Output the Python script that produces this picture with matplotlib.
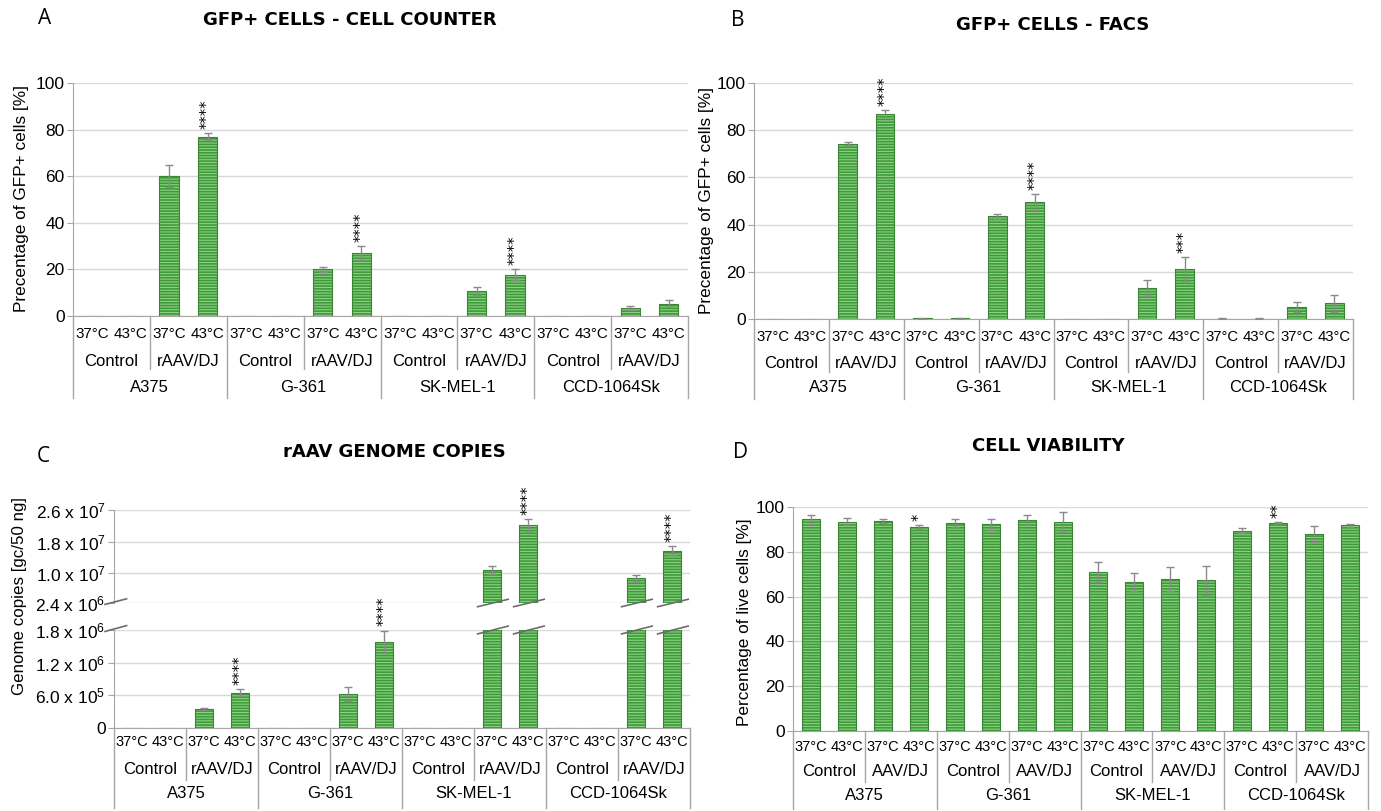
import matplotlib
matplotlib.use('Agg')
import matplotlib.pyplot as plt
import numpy as np

# ---- data ----
temps = ['37°C', '43°C'] * 8
treat_abc = ['Control', 'rAAV/DJ'] * 4
treat_d = ['Control', 'AAV/DJ'] * 4
cell_lines = ['A375', 'G-361', 'SK-MEL-1', 'CCD-1064Sk']

counter_vals = [0, 0, 60.0, 77.0, 0, 0, 20.0, 27.0, 0, 0, 10.7, 17.8, 0, 0, 3.5, 5.2]
counter_err = [0, 0, 4.8, 1.5, 0, 0, 1.2, 3.0, 0, 0, 1.8, 2.5, 0, 0, 0.8, 1.5]
counter_sig = {3: '****', 7: '****', 11: '****'}

facs_vals = [0.1, 0, 74.3, 87.0, 0.3, 0.4, 43.5, 49.5, 0, 0, 13.2, 21.2, 0.2, 0.2, 5.0, 6.6]
facs_err = [0, 0, 0.5, 1.5, 0.2, 0.2, 1.2, 3.3, 0, 0, 3.3, 5.0, 0.1, 0.1, 2.2, 3.6]
facs_sig = {3: '****', 7: '****', 11: '***'}

gc_vals = [0, 0, 3.5e5, 6.5e5, 0, 0, 6.2e5, 1.58e6, 0, 0, 1.08e7, 2.21e7, 0, 0, 8.7e6, 1.57e7]
gc_err = [0, 0, 0.15e5, 0.6e5, 0, 0, 1.3e5, 2.1e5, 0, 0, 1.0e6, 1.5e6, 0, 0, 0.9e6, 1.2e6]
gc_sig = {3: '****', 7: '****', 11: '****', 15: '****'}

viab_vals = [94.5, 93.5, 93.7, 91.0, 92.8, 92.3, 94.2, 93.2,
             71.0, 66.5, 67.8, 67.3, 89.5, 93.0, 87.8, 91.8]
viab_err = [2.0, 1.5, 1.0, 0.8, 1.8, 2.5, 2.3, 4.5,
            4.3, 4.2, 5.5, 6.5, 1.0, 0.3, 3.5, 0.7]
viab_sig = {3: '*', 13: '**'}

# ---- style ----
GREEN = '#3c9c37'
STRIPE = '#8fcf86'
EDGE = '#3a8535'
ERRC = '#8a8a8a'
GRID = '#d9d9d9'
AXC = '#a6a6a6'
plt.rcParams['font.family'] = ['Liberation Sans', 'DejaVu Sans']
plt.rcParams['mathtext.default'] = 'regular'
plt.rcParams['hatch.linewidth'] = 0.8

W, H = 1381, 811
fig = plt.figure(figsize=(W / 100, H / 100), dpi=100)


def rect(l, r, t, b):
    return [l / W, 1 - b / H, (r - l) / W, (b - t) / H]


def style_ax(ax):
    for s in ['top', 'right']:
        ax.spines[s].set_visible(False)
    ax.spines['left'].set_color(AXC)
    ax.spines['bottom'].set_color(AXC)
    ax.yaxis.grid(True, color=GRID, lw=1)
    ax.set_axisbelow(True)
    ax.tick_params(axis='y', length=4, color=AXC, labelsize=12.5, pad=2)
    ax.tick_params(axis='x', length=0, labelbottom=False)
    ax.set_xlim(-0.5, 15.5)


def draw_bars(ax, vals, errs, sig):
    vals = np.array(vals, float)
    errs = np.array(errs, float)
    x = np.arange(len(vals))
    ax.bar(x, vals, 0.5, color=GREEN, edgecolor=STRIPE, hatch='------', linewidth=0, zorder=2)
    ax.bar(x, vals, 0.5, fill=False, edgecolor=EDGE, linewidth=0.8, zorder=3)
    m = errs > 0
    ax.errorbar(x[m], vals[m], yerr=errs[m], fmt='none', ecolor=ERRC,
                elinewidth=1, capsize=3, capthick=1, zorder=4)
    for i, s in sig.items():
        ax.annotate(s, (x[i], vals[i] + errs[i]), xytext=(0, 3), textcoords='offset points',
                    rotation=90, ha='center', va='bottom', fontsize=10.5,
                    family='DejaVu Sans', annotation_clip=False)


def cat_table(ax, h_px, rows, ends, treat, tfs, fs=12):
    tr = ax.get_xaxis_transform()
    n = len(temps)
    for i in range(n):
        ax.text(i, -rows[0] / h_px, temps[i], transform=tr, ha='center', va='center',
                fontsize=tfs, clip_on=False)
    for j in range(n // 2):
        ax.text(2 * j + 0.5, -rows[1] / h_px, treat[j], transform=tr, ha='center',
                va='center', fontsize=fs, clip_on=False)
    for k in range(n // 4):
        ax.text(4 * k + 1.5, -rows[2] / h_px, cell_lines[k], transform=tr, ha='center',
                va='center', fontsize=fs, clip_on=False)
    for j in range(n // 2 + 1):
        xe = 2 * j - 0.5
        ye = ends[1] if j % 2 == 0 else ends[0]
        ax.plot([xe, xe], [0, -ye / h_px], transform=tr, color=AXC, lw=1, clip_on=False)


# ---- A ----
axA = fig.add_axes(rect(73, 688, 83, 316))
style_ax(axA)
axA.set_ylim(0, 100)
axA.set_yticks(range(0, 101, 20))
draw_bars(axA, counter_vals, counter_err, counter_sig)
cat_table(axA, 233, (18, 46, 71), (53, 82), treat_abc, 10.9)

# ---- B ----
axB = fig.add_axes(rect(754, 1353, 83, 319))
style_ax(axB)
axB.set_ylim(0, 100)
axB.set_yticks(range(0, 101, 20))
draw_bars(axB, facs_vals, facs_err, facs_sig)
cat_table(axB, 236, (18, 45, 68), (53, 80), treat_abc, 10.7)

# ---- C (broken axis) ----
axCu = fig.add_axes(rect(114, 690, 510, 603))
axCl = fig.add_axes(rect(114, 690, 630, 728))
for a in (axCu, axCl):
    style_ax(a)
axCu.spines['bottom'].set_visible(False)
axCu.set_ylim(2.4e6, 2.6e7)
axCu.set_yticks([2.4e6, 1.0e7, 1.8e7, 2.6e7])
axCu.set_yticklabels(['2.4 x 10$^{6}$', '1.0 x 10$^{7}$', '1.8 x 10$^{7}$', '2.6 x 10$^{7}$'])
axCl.set_ylim(0, 1.8e6)
axCl.set_yticks([0, 6e5, 1.2e6, 1.8e6])
axCl.set_yticklabels(['0', '6.0 x 10$^{5}$', '1.2 x 10$^{6}$', '1.8 x 10$^{6}$'])
draw_bars(axCu, gc_vals, gc_err, {i: s for i, s in gc_sig.items() if gc_vals[i] > 2.4e6})
draw_bars(axCl, gc_vals, gc_err, {i: s for i, s in gc_sig.items() if gc_vals[i] < 1.8e6})
cat_table(axCl, 98, (14, 41, 66), (52, 80), treat_abc, 10.5)
# break marks on the axis and on the clipped bars
for a, y0 in ((axCu, 0.0), (axCl, 1.0)):
    tr = a.get_xaxis_transform()
    a.plot([-0.75, -0.15], [y0 - 0.015, y0 + 0.045], transform=tr, color='#6d6d6d',
           lw=1.2, clip_on=False, zorder=6)
    for i, v in enumerate(gc_vals):
        if v > 1.8e6:
            a.plot([i - 0.4, i + 0.45], [y0 - 0.04, y0 + 0.04], transform=tr,
                   color='#6d6d6d', lw=1.2, clip_on=False, zorder=6)

# ---- D ----
axD = fig.add_axes(rect(793, 1368, 507, 731))
style_ax(axD)
axD.set_ylim(0, 100)
axD.set_yticks(range(0, 101, 20))
draw_bars(axD, viab_vals, viab_err, viab_sig)
cat_table(axD, 224, (16, 41, 64), (51, 78), treat_d, 10.5)

# ---- titles, panel letters, axis labels ----
tkw = dict(ha='center', va='center', fontsize=13, fontweight='bold', family='DejaVu Sans')
fig.text(350 / W, 1 - 20 / H, 'GFP+ CELLS - CELL COUNTER', **tkw)
fig.text(1053 / W, 1 - 25 / H, 'GFP+ CELLS - FACS', **tkw)
fig.text(394 / W, 1 - 452 / H, 'rAAV GENOME COPIES', **tkw)
fig.text(1048 / W, 1 - 446 / H, 'CELL VIABILITY', **tkw)

lkw = dict(ha='center', va='center', fontsize=15, family='Open Sans')
fig.text(45 / W, 1 - 18 / H, 'A', **lkw)
fig.text(738 / W, 1 - 20 / H, 'B', **lkw)
fig.text(43 / W, 1 - 456 / H, 'C', **lkw)
fig.text(741 / W, 1 - 452 / H, 'D', **lkw)

ykw = dict(ha='center', va='center', rotation=90)
fig.text(22 / W, 1 - 198 / H, 'Precentage of GFP+ cells [%]', fontsize=12.4, **ykw)
fig.text(706 / W, 1 - 200 / H, 'Precentage of GFP+ cells [%]', fontsize=12.4, **ykw)
fig.text(20 / W, 1 - 596 / H, 'Genome copies [gc/50 ng]', fontsize=12.2, **ykw)
fig.text(745 / W, 1 - 622 / H, 'Percentage of live cells [%]', fontsize=12.4, **ykw)

fig.savefig('out.png', dpi=100)
